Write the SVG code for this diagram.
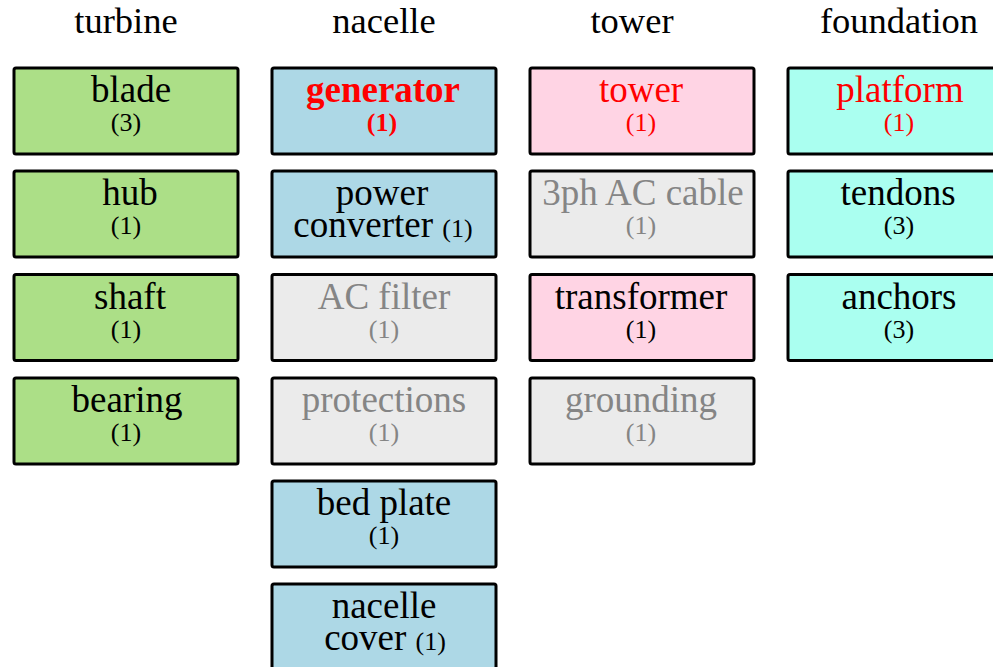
<svg xmlns="http://www.w3.org/2000/svg" width="993" height="667" viewBox="0 0 993 667">
<style>
text{font-family:"Liberation Serif","Times New Roman",serif;text-anchor:middle;fill:#000}
.h{font-size:36.5px}
.n{font-size:37px}
.c{font-size:26px}
.box{stroke:#000;stroke-width:3}
.g{fill:#acdf87}.b{fill:#add8e6}.x{fill:#ebebeb}.p{fill:#ffd4e4}.t{fill:#aafff0}
.gr{fill:#858585}.red{fill:#ff0000}.bold{font-weight:bold}
</style>
<rect width="993" height="667" fill="#fff"/>
<g id="headers">
<text class="h" x="126" y="33">turbine</text>
<text class="h" x="384" y="33">nacelle</text>
<text class="h" x="632" y="33">tower</text>
<text class="h" x="899" y="33">foundation</text>
</g>
<g id="connectors"></g>
<g id="blade"><rect class="box g" x="14" y="68" width="224" height="86" rx="2"/><text class="n" x="131" y="102">blade</text><text class="c" x="126" y="131">(3)</text></g>
<g id="hub"><rect class="box g" x="14" y="171" width="224" height="86" rx="2"/><text class="n" x="130" y="205">hub</text><text class="c" x="126" y="234">(1)</text></g>
<g id="shaft"><rect class="box g" x="14" y="274.5" width="224" height="86" rx="2"/><text class="n" x="130" y="308.5">shaft</text><text class="c" x="126" y="337.5">(1)</text></g>
<g id="bearing"><rect class="box g" x="14" y="378" width="224" height="86" rx="2"/><text class="n" x="127" y="412">bearing</text><text class="c" x="126" y="441">(1)</text></g>

<g id="generator"><rect class="box b" x="272" y="68" width="224" height="86" rx="2"/><text class="n red bold" x="383" y="102">generator</text><text class="c red bold" x="382" y="131">(1)</text></g>
<g id="power-converter"><rect class="box b" x="272" y="171" width="224" height="86" rx="2"/><text class="n" x="382" y="205">power</text><text class="n" x="383" y="237">converter <tspan class="c">(1)</tspan></text></g>
<g id="ac-filter"><rect class="box x" x="272" y="274.5" width="224" height="86" rx="2"/><text class="n gr" x="384" y="308.5">AC filter</text><text class="c gr" x="384" y="337.5">(1)</text></g>
<g id="protections"><rect class="box x" x="272" y="378" width="224" height="86" rx="2"/><text class="n gr" x="384" y="412">protections</text><text class="c gr" x="384" y="441">(1)</text></g>
<g id="bed-plate"><rect class="box b" x="272" y="481" width="224" height="86" rx="2"/><text class="n" x="384" y="515">bed plate</text><text class="c" x="384" y="544">(1)</text></g>
<g id="nacelle-cover"><rect class="box b" x="272" y="584" width="224" height="86" rx="2"/><text class="n" x="384" y="618">nacelle</text><text class="n" x="385" y="650">cover <tspan class="c">(1)</tspan></text></g>

<g id="tower"><rect class="box p" x="530" y="68" width="224" height="86" rx="2"/><text class="n red" x="641" y="102">tower</text><text class="c red" x="641" y="131">(1)</text></g>
<g id="ac-cable"><rect class="box x" x="530" y="171" width="224" height="86" rx="2"/><text class="n gr" x="643" y="205">3ph AC cable</text><text class="c gr" x="641" y="234">(1)</text></g>
<g id="transformer"><rect class="box p" x="530" y="274.5" width="224" height="86" rx="2"/><text class="n" x="641" y="308.5">transformer</text><text class="c" x="641" y="337.5">(1)</text></g>
<g id="grounding"><rect class="box x" x="530" y="378" width="224" height="86" rx="2"/><text class="n gr" x="641" y="412">grounding</text><text class="c gr" x="641" y="441">(1)</text></g>

<g id="platform"><rect class="box t" x="788" y="68" width="224" height="86" rx="2"/><text class="n red" x="900" y="102">platform</text><text class="c red" x="899" y="131">(1)</text></g>
<g id="tendons"><rect class="box t" x="788" y="171" width="224" height="86" rx="2"/><text class="n" x="898" y="205">tendons</text><text class="c" x="899" y="234">(3)</text></g>
<g id="anchors"><rect class="box t" x="788" y="274.5" width="224" height="86" rx="2"/><text class="n" x="899" y="308.5">anchors</text><text class="c" x="899" y="337.5">(3)</text></g>
</svg>
